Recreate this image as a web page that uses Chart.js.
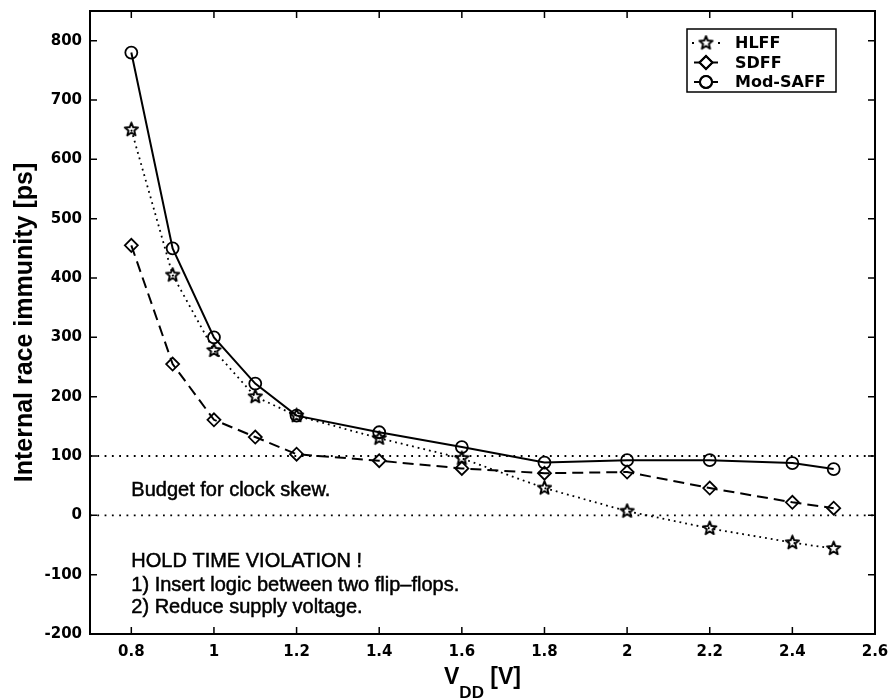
<!DOCTYPE html>
<html>
<head>
<meta charset="utf-8">
<script src="https://cdn.jsdelivr.net/npm/chart.js@4/dist/chart.umd.min.js"></script>
<style>
  html, body { margin: 0; padding: 0; background: #fff; }
  canvas { display: block; }
</style>
</head>
<body>
<canvas id="raceChart" width="889" height="700"></canvas>
<script>
// values
const VDD = [0.8, 0.9, 1.0, 1.1, 1.2, 1.4, 1.6, 1.8, 2.0, 2.2, 2.4, 2.5];
const HLFF = [650, 405, 278, 200, 168, 130, 96, 46, 7, -22, -46, -56];
const SDFF = [455, 255, 161, 132, 103, 92, 79, 71, 73, 46, 22, 12];
const MOD_SAFF = [780, 450, 300, 222, 168, 140, 115, 89, 93, 93, 88, 78];

const REF_X = [0.7, 2.6];
const BUDGET_Y = [100, 100];
const ZERO_Y = [0, 0];

const X_TICKS = [0.8, 1, 1.2, 1.4, 1.6, 1.8, 2, 2.2, 2.4, 2.6];
const Y_TICKS = [-200, -100, 0, 100, 200, 300, 400, 500, 600, 700, 800];

const NOTES = [
  { text: 'Budget for clock skew.', x: 0.8, y: 42 },
  { text: 'HOLD TIME VIOLATION !', x: 0.8, y: -78 },
  { text: '1) Insert logic between two flip\u2013flops.', x: 0.8, y: -118 },
  { text: '2) Reduce supply voltage.', x: 0.8, y: -156 }
];

const pts = (xs, ys) => xs.map((x, i) => ({ x, y: ys[i] }));

// open five-point star marker
const starMarker = (() => {
  const c = document.createElement('canvas');
  c.width = c.height = 17;
  const g = c.getContext('2d');
  g.translate(8.5, 8.5);
  g.beginPath();
  for (let i = 0; i < 10; i++) {
    const r = i % 2 ? 3 : 7;
    const a = -Math.PI / 2 + i * Math.PI / 5;
    g.lineTo(r * Math.cos(a), r * Math.sin(a));
  }
  g.closePath();
  g.lineWidth = 1.9;
  g.lineJoin = 'round';
  g.strokeStyle = '#000';
  g.stroke();
  return c;
})();

const TICK_FONT = { family: 'DejaVu Sans', size: 15, weight: 'bold' };

// drop the label overhang padding so the plot box lands where the figure has it
const noOverhang = s => { s.paddingLeft = s.paddingRight = s.paddingTop = s.paddingBottom = 0; };

const figurePlugin = {
  id: 'figure',
  afterDraw(chart) {
    const { ctx, chartArea: a, scales: { x, y } } = chart;
    ctx.save();
    ctx.strokeStyle = '#000';
    ctx.fillStyle = '#000';

    // box and inward ticks
    ctx.lineWidth = 2;
    ctx.strokeRect(a.left, a.top, a.right - a.left, a.bottom - a.top);
    ctx.lineWidth = 1.5;
    ctx.beginPath();
    X_TICKS.forEach(v => {
      const px = x.getPixelForValue(v);
      ctx.moveTo(px, a.bottom); ctx.lineTo(px, a.bottom - 7);
      ctx.moveTo(px, a.top); ctx.lineTo(px, a.top + 7);
    });
    Y_TICKS.forEach(v => {
      const py = y.getPixelForValue(v);
      ctx.moveTo(a.left, py); ctx.lineTo(a.left + 7, py);
      ctx.moveTo(a.right, py); ctx.lineTo(a.right - 7, py);
    });
    ctx.stroke();

    // notes
    ctx.font = '20px "Liberation Sans", Arial, sans-serif';
    ctx.textBaseline = 'middle';
    ctx.textAlign = 'left';
    ctx.lineWidth = 0.5;
    NOTES.forEach(n => {
      const px = x.getPixelForValue(n.x), py = y.getPixelForValue(n.y);
      ctx.fillText(n.text, px, py);
      ctx.strokeText(n.text, px, py);
    });

    // legend
    const lx = a.right - 188, ly = a.top + 18, lw = 149, lh = 63;
    ctx.fillStyle = '#fff';
    ctx.fillRect(lx, ly, lw, lh);
    ctx.lineWidth = 1.5;
    ctx.strokeRect(lx, ly, lw, lh);
    ctx.fillStyle = '#000';
    ctx.font = 'bold 16px "DejaVu Sans", sans-serif';
    chart.data.datasets.slice(0, 3).forEach((ds, i) => {
      const ry = ly + 14 + i * 19.5;
      const mx = lx + 19;
      ctx.lineWidth = ds.borderWidth;
      if (ds.label === 'HLFF') {
        ctx.fillRect(mx - 14, ry - 1, 2, 2);
        ctx.fillRect(mx + 12, ry - 1, 2, 2);
      } else {
        ctx.beginPath();
        ctx.moveTo(mx - 12, ry); ctx.lineTo(mx + 12, ry);
        ctx.stroke();
      }
      if (ds.pointStyle === starMarker) {
        ctx.drawImage(starMarker, mx - 8.5, ry - 8.5);
      } else {
        ctx.fillStyle = '#fff';
        Chart.helpers.drawPoint(ctx, {
          pointStyle: ds.pointStyle, radius: ds.pointRadius, borderWidth: ds.pointBorderWidth, rotation: 0
        }, mx, ry);
        ctx.lineWidth = ds.pointBorderWidth;
        ctx.stroke();
        ctx.fillStyle = '#000';
      }
      ctx.fillText(ds.label, lx + 48, ry + 1);
    });

    // axis titles
    ctx.font = 'bold 25px "Liberation Sans", Arial, sans-serif';
    ctx.textAlign = 'center';
    ctx.save();
    ctx.translate(25, (a.top + a.bottom) / 2);
    ctx.rotate(-Math.PI / 2);
    ctx.fillText('Internal race immunity [ps]', 0, 0);
    ctx.restore();

    ctx.textAlign = 'left';
    ctx.textBaseline = 'alphabetic';
    const big = 'bold 23px "Liberation Sans", Arial, sans-serif';
    const small = 'bold 17px "Liberation Sans", Arial, sans-serif';
    ctx.font = big; const w1 = ctx.measureText('V').width, w3 = ctx.measureText(' [V]').width;
    ctx.font = small; const w2 = ctx.measureText('DD').width;
    let tx = (a.left + a.right) / 2 - (w1 + w2 + w3) / 2;
    ctx.font = big; ctx.fillText('V', tx, 684); tx += w1;
    ctx.font = small; ctx.fillText('DD', tx, 698); tx += w2;
    ctx.font = big; ctx.fillText(' [V]', tx, 684);
    ctx.restore();
  }
};

new Chart(document.getElementById('raceChart'), {
  type: 'line',
  data: {
    datasets: [
      { label: 'HLFF', data: pts(VDD, HLFF), borderColor: '#000', borderWidth: 1.8, borderDash: [1.8, 4],
        pointStyle: starMarker, pointRadius: 7, pointBorderWidth: 1.5, tension: 0 },
      { label: 'SDFF', data: pts(VDD, SDFF), borderColor: '#000', borderWidth: 2, borderDash: [11, 6],
        pointStyle: 'rectRot', pointRadius: 6.5, pointBorderWidth: 1.8, pointBorderColor: '#000', pointBackgroundColor: 'transparent', tension: 0 },
      { label: 'Mod-SAFF', data: pts(VDD, MOD_SAFF), borderColor: '#000', borderWidth: 2,
        pointStyle: 'circle', pointRadius: 6, pointBorderWidth: 1.8, pointBorderColor: '#000', pointBackgroundColor: 'transparent', tension: 0 },
      { label: 'budget', data: pts(REF_X, BUDGET_Y), borderColor: '#000', borderWidth: 1.8, borderDash: [1.8, 5.5], pointRadius: 0 },
      { label: 'zero', data: pts(REF_X, ZERO_Y), borderColor: '#000', borderWidth: 1.8, borderDash: [1.8, 5.5], pointRadius: 0 }
    ]
  },
  options: {
    responsive: false,
    animation: false,
    layout: { padding: { top: 11, right: 14, left: 0, bottom: 0 } },
    plugins: { legend: { display: false }, tooltip: { enabled: false } },
    scales: {
      x: {
        type: 'linear', min: 0.7, max: 2.6,
        grid: { display: false, drawTicks: false }, border: { display: false },
        afterBuildTicks: s => { s.ticks = X_TICKS.map(v => ({ value: v })); },
        afterFit: s => { s.height = 66; noOverhang(s); },
        ticks: { color: '#000', font: TICK_FONT, padding: 9, maxRotation: 0, autoSkip: false,
          callback: v => String(+v.toFixed(1)) }
      },
      y: {
        type: 'linear', min: -200, max: 850,
        grid: { display: false, drawTicks: false }, border: { display: false },
        afterBuildTicks: s => { s.ticks = Y_TICKS.map(v => ({ value: v })); },
        afterFit: s => { s.width = 90; noOverhang(s); },
        ticks: { color: '#000', font: TICK_FONT, padding: 8, autoSkip: false }
      }
    }
  },
  plugins: [figurePlugin]
});
</script>
</body>
</html>
